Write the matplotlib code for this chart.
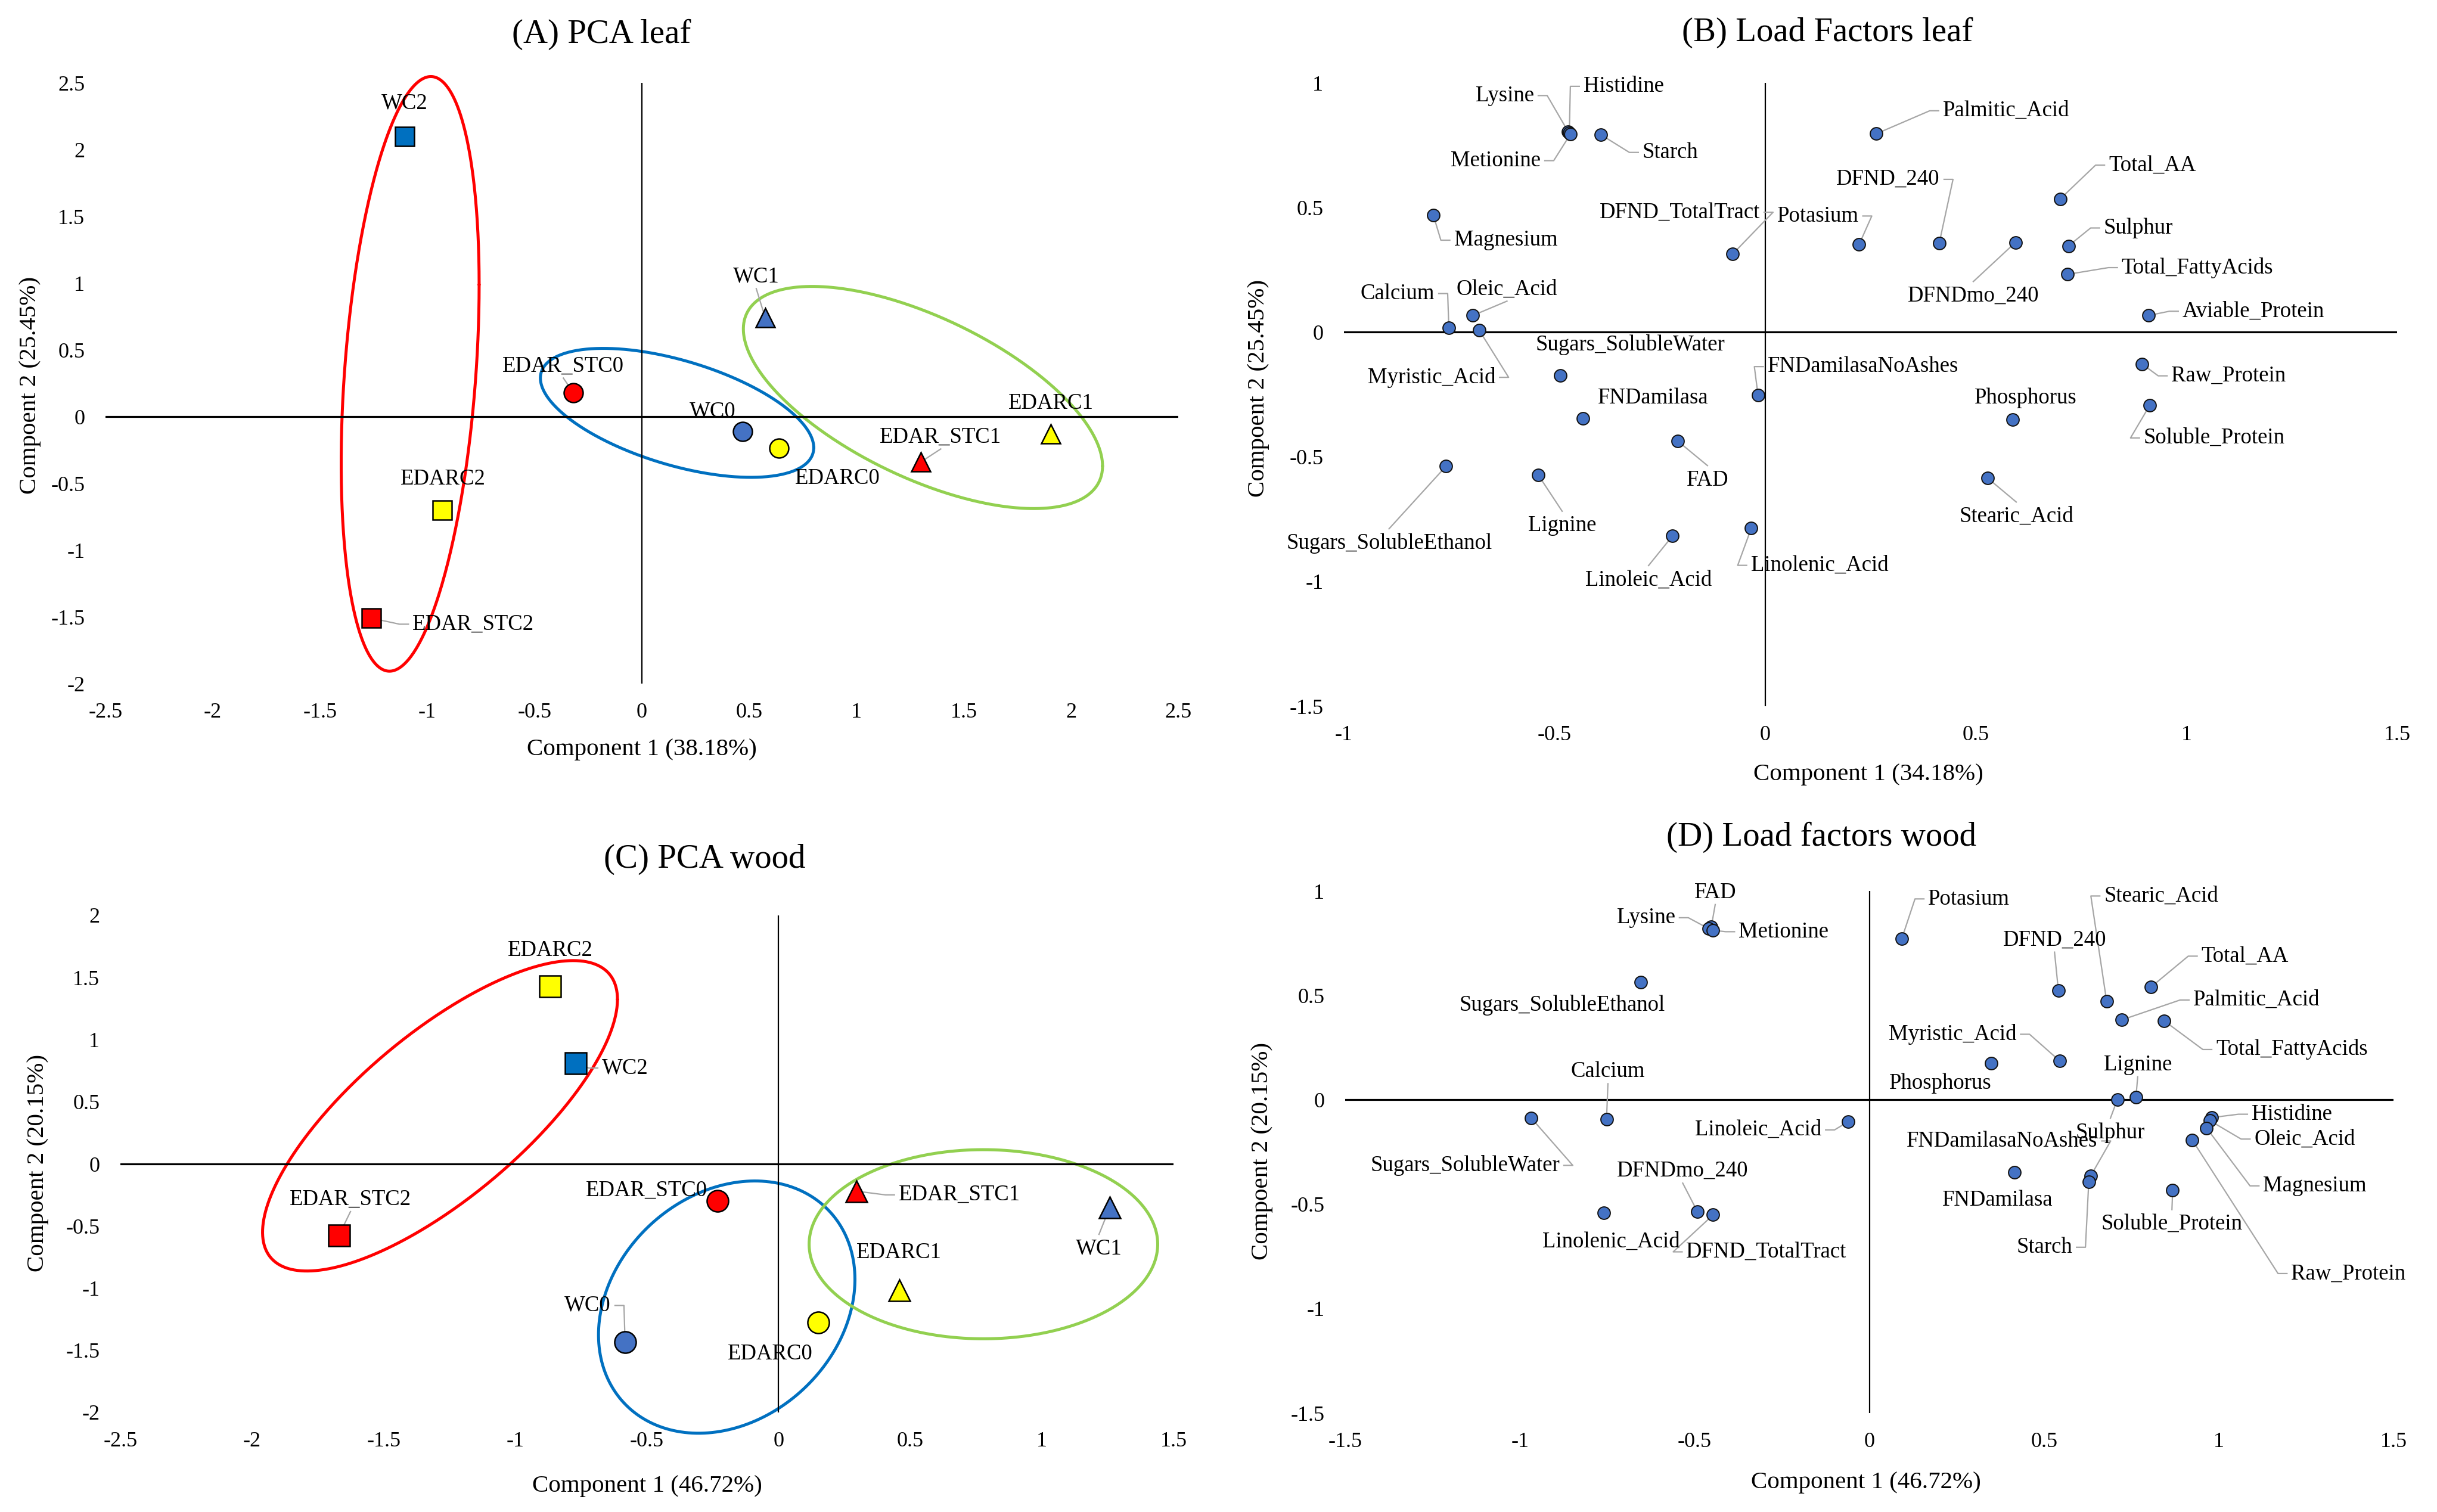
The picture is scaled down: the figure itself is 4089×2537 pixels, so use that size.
import numpy as np
import matplotlib
matplotlib.use('Agg')
import matplotlib.pyplot as plt
from matplotlib.lines import Line2D

plt.rcParams['font.family'] = ['Liberation Serif', 'DejaVu Serif']
plt.rcParams['axes.unicode_minus'] = False

W, H, DPI = 4089, 2537, 100

# ---------------- Panel A: PCA leaf ----------------
samples = ['WC0', 'WC1', 'WC2', 'EDARC0', 'EDARC1', 'EDARC2', 'EDAR_STC0', 'EDAR_STC1', 'EDAR_STC2']
leaf_pc1 = [0.47, 0.575, -1.105, 0.64, 1.905, -0.93, -0.32, 1.30, -1.26]
leaf_pc2 = [-0.11, 0.74, 2.10, -0.235, -0.13, -0.70, 0.18, -0.34, -1.51]
leaf_lab_x = [0.330, 0.533, -1.105, 0.913, 1.908, -0.928, -0.366, 1.393, -0.785]
leaf_lab_y = [0.041, 1.049, 2.347, -0.465, 0.100, -0.469, 0.379, -0.152, -1.555]

# ---------------- Panel C: PCA wood ----------------
wood_pc1 = [-0.583, 1.258, -0.771, 0.151, 0.458, -0.867, -0.232, 0.296, -1.67]
wood_pc2 = [-1.436, -0.349, 0.809, -1.276, -1.017, 1.429, -0.297, -0.219, -0.575]
wood_lab_x = [-0.725, 1.217, -0.583, -0.032, 0.458, -0.867, -0.501, 0.687, -1.626]
wood_lab_y = [-1.139, -0.683, 0.772, -1.529, -0.712, 1.718, -0.212, -0.249, -0.286]

# ---------------- Panel B: Load factors leaf ----------------
leaf_vars = ['Lysine', 'Histidine', 'Metionine', 'Starch', 'Palmitic_Acid', 'Total_AA', 'Magnesium',
             'DFND_TotalTract', 'Potasium', 'DFND_240', 'DFNDmo_240', 'Sulphur', 'Total_FattyAcids',
             'Aviable_Protein', 'Calcium', 'Oleic_Acid', 'Myristic_Acid', 'Sugars_SolubleWater',
             'FNDamilasaNoAshes', 'FNDamilasa', 'FAD', 'Raw_Protein', 'Soluble_Protein', 'Phosphorus',
             'Sugars_SolubleEthanol', 'Lignine', 'Stearic_Acid', 'Linoleic_Acid', 'Linolenic_Acid']
leaf_load1 = [-0.468, -0.465, -0.462, -0.390, 0.264, 0.700, -0.788, -0.077, 0.223, 0.413, 0.594, 0.720,
              0.718, 0.910, -0.751, -0.694, -0.679, -0.487, -0.017, -0.432, -0.208, 0.895, 0.913, 0.587,
              -0.758, -0.539, 0.528, -0.220, -0.033]
leaf_load2 = [0.805, 0.800, 0.795, 0.792, 0.796, 0.534, 0.470, 0.314, 0.352, 0.356, 0.360, 0.346,
              0.232, 0.067, 0.018, 0.067, 0.008, -0.173, -0.253, -0.346, -0.436, -0.128, -0.293, -0.350,
              -0.538, -0.572, -0.585, -0.817, -0.786]
leaf_vlab_x = [-0.618, -0.336, -0.640, -0.225, 0.572, 0.919, -0.616, -0.203, 0.125, 0.292, 0.494, 0.886,
               1.026, 1.159, -0.873, -0.613, -0.792, -0.321, 0.232, -0.266, -0.137, 1.100, 1.066, 0.618,
               -0.893, -0.482, 0.596, -0.277, 0.129]
leaf_vlab_y = [0.949, 0.986, 0.688, 0.721, 0.888, 0.670, 0.369, 0.481, 0.466, 0.613, 0.145, 0.418,
               0.259, 0.084, 0.155, 0.173, -0.181, -0.051, -0.138, -0.263, -0.593, -0.175, -0.424, -0.263,
               -0.847, -0.776, -0.739, -0.994, -0.935]

# ---------------- Panel D: Load factors wood ----------------
wood_vars = ['FAD', 'Lysine', 'Metionine', 'Potasium', 'Sugars_SolubleEthanol', 'DFND_240', 'Stearic_Acid',
             'Total_AA', 'Palmitic_Acid', 'Total_FattyAcids', 'Myristic_Acid', 'Phosphorus', 'Lignine',
             'Sulphur', 'Histidine', 'Oleic_Acid', 'Magnesium', 'Raw_Protein', 'Soluble_Protein',
             'FNDamilasa', 'FNDamilasaNoAshes', 'Starch', 'Sugars_SolubleWater', 'Calcium',
             'Linoleic_Acid', 'Linolenic_Acid', 'DFNDmo_240', 'DFND_TotalTract']
wood_load1 = [-0.452, -0.460, -0.448, 0.093, -0.654, 0.541, 0.679, 0.806, 0.723, 0.844, 0.545, 0.349, 0.763,
              0.710, 0.980, 0.975, 0.965, 0.924, 0.868, 0.416, 0.634, 0.628, -0.968, -0.752, -0.060,
              -0.759, -0.492, -0.447]
wood_load2 = [0.830, 0.820, 0.812, 0.772, 0.562, 0.524, 0.473, 0.540, 0.383, 0.378, 0.186, 0.175, 0.013,
              0.002, -0.085, -0.100, -0.135, -0.192, -0.434, -0.347, -0.363, -0.392, -0.086, -0.093,
              -0.104, -0.540, -0.535, -0.551]
wood_vlab_x = [-0.441, -0.639, -0.245, 0.285, -0.879, 0.530, 0.835, 1.075, 1.108, 1.209, 0.238, 0.203, 0.768,
               0.690, 1.209, 1.246, 1.275, 1.371, 0.866, 0.367, 0.380, 0.501, -1.157, -0.748, -0.318,
               -0.739, -0.534, -0.294]
wood_vlab_y = [0.993, 0.872, 0.805, 0.962, 0.454, 0.765, 0.976, 0.688, 0.478, 0.241, 0.314, 0.080, 0.168,
               -0.157, -0.069, -0.188, -0.412, -0.832, -0.595, -0.480, -0.197, -0.706, -0.314, 0.135,
               -0.144, -0.679, -0.341, -0.728]

# Ellipses: centre x, centre y, half-extent x, half-extent y, correlation
leaf_ellipses = [(-1.08, 0.32, 0.3215, 2.227, 0.30),
                 (0.164, 0.028, 0.637, 0.483, -0.54),
                 (1.31, 0.143, 0.837, 0.832, -0.617)]
wood_ellipses = [(-1.286, 0.3875, 0.674, 1.249, 0.75),
                 (-0.197, -1.152, 0.487, 1.015, 0.22),
                 (0.778, -0.646, 0.662, 0.761, 0.0)]
ellipse_colors = ['#FF0000', '#0070C0', '#92D050']

# ---------------- styles ----------------
sample_color = {'WC0': '#4472C4', 'WC1': '#4472C4', 'WC2': '#0070C0',
                'EDARC0': '#FFFF00', 'EDARC1': '#FFFF00', 'EDARC2': '#FFFF00',
                'EDAR_STC0': '#FF0000', 'EDAR_STC1': '#FF0000', 'EDAR_STC2': '#FF0000'}
sample_marker = {'0': 'o', '1': '^', '2': 's'}

leaders_A = {'WC1', 'EDAR_STC0', 'EDAR_STC1', 'EDAR_STC2'}
leaders_C = {'WC0', 'WC1', 'WC2', 'EDAR_STC1', 'EDAR_STC2'}
no_leader_B = {'Sugars_SolubleWater', 'FNDamilasa', 'Phosphorus'}
no_leader_D = {'Sugars_SolubleEthanol', 'Phosphorus', 'FNDamilasa', 'Linolenic_Acid'}

LEADER_C = '#A6A6A6'
TICK_FS = 26
LAB_FS = 26.5
AXT_FS = 29.5
TITLE_FS = 41

fig = plt.figure(figsize=(W / DPI, H / DPI), dpi=DPI)
fig.patch.set_facecolor('white')


def px_axes(l, t, r, b):
    return fig.add_axes([l / W, 1 - b / H, (r - l) / W, (b - t) / H])


def fmt(v):
    v = round(float(v), 2) + 0.0
    return f"{v:g}"


def setup(ax, xr, yr):
    ax.set_xlim(xr[0], xr[1])
    ax.set_ylim(yr[0], yr[1])
    xt = np.round(np.arange(xr[0], xr[1] + 0.01, 0.5), 2)
    yt = np.round(np.arange(yr[0], yr[1] + 0.01, 0.5), 2)
    ax.set_xticks(xt)
    ax.set_xticklabels([fmt(v) for v in xt])
    ax.set_yticks(yt)
    ax.set_yticklabels([fmt(v) for v in yt])
    for s in ax.spines.values():
        s.set_visible(False)
    ax.tick_params(axis='x', length=0, pad=23, labelsize=TICK_FS, colors='black')
    ax.tick_params(axis='y', length=0, pad=25, labelsize=TICK_FS, colors='black')
    ax.axhline(0, color='black', lw=2.3, zorder=2)
    ax.axvline(0, color='black', lw=1.6, zorder=2)
    ax.set_facecolor('none')


def draw_ellipses(ax, ells):
    t = np.linspace(0, 2 * np.pi, 400)
    for (cx, cy, hx, hy, rho), col in zip(ells, ellipse_colors):
        x = cx + hx * np.cos(t)
        y = cy + rho * hy * np.cos(t) + hy * np.sqrt(1 - rho ** 2) * np.sin(t)
        ax.plot(x, y, color=col, lw=3.6, zorder=1, solid_capstyle='round', clip_on=False)


def add_leader(ax, txt, px, py, renderer):
    bb = txt.get_window_extent(renderer)
    P = np.array(ax.transData.transform((px, py)))
    gap, elbow = 7, 15
    xm = (bb.x0 + bb.x1) / 2
    ym = (bb.y0 + bb.y1) / 2
    cands = [
        [(bb.x0 - gap, ym), (bb.x0 - gap - elbow, ym)],
        [(bb.x1 + gap, ym), (bb.x1 + gap + elbow, ym)],
        [(xm, bb.y0 - gap + 4)],
        [(xm, bb.y1 + gap)],
    ]
    best = min(cands, key=lambda c: np.hypot(c[-1][0] - P[0], c[-1][1] - P[1]))
    pts = np.array(best + [tuple(P)])
    d = ax.transData.inverted().transform(pts)
    ax.add_line(Line2D(d[:, 0], d[:, 1], color=LEADER_C, lw=1.6, zorder=3, clip_on=False))


# ---------------- build panels ----------------
axA = px_axes(177, 139, 1977, 1147)
axB = px_axes(2255, 139, 4022, 1185)
axC = px_axes(202, 1536, 1969, 2370)
axD = px_axes(2257, 1495, 4016, 2371)

setup(axA, (-2.5, 2.5), (-2, 2.5))
setup(axB, (-1, 1.5), (-1.5, 1))
setup(axC, (-2.5, 1.5), (-2, 2))
setup(axD, (-1.5, 1.5), (-1.5, 1))

draw_ellipses(axA, leaf_ellipses)
draw_ellipses(axC, wood_ellipses)

texts = []  # (ax, text, px, py)

for ax, p1, p2, lx, ly, leaders, ms in [
        (axA, leaf_pc1, leaf_pc2, leaf_lab_x, leaf_lab_y, leaders_A, 23),
        (axC, wood_pc1, wood_pc2, wood_lab_x, wood_lab_y, leaders_C, 26)]:
    for name, x, y, tx, ty in zip(samples, p1, p2, lx, ly):
        ax.plot([x], [y], linestyle='none', marker=sample_marker[name[-1]], markersize=ms,
                markerfacecolor=sample_color[name], markeredgecolor='black', markeredgewidth=1.8,
                zorder=4, clip_on=False)
        t = ax.text(tx, ty, name, ha='center', va='center', fontsize=LAB_FS, color='black', zorder=5)
        if name in leaders:
            texts.append((ax, t, x, y))

for ax, names, l1, l2, lx, ly, noleader in [
        (axB, leaf_vars, leaf_load1, leaf_load2, leaf_vlab_x, leaf_vlab_y, no_leader_B),
        (axD, wood_vars, wood_load1, wood_load2, wood_vlab_x, wood_vlab_y, no_leader_D)]:
    ax.plot(l1, l2, linestyle='none', marker='o', markersize=15, markerfacecolor='#4472C4',
            markeredgecolor='#111111', markeredgewidth=1.4, zorder=4, clip_on=False)
    for name, x, y, tx, ty in zip(names, l1, l2, lx, ly):
        t = ax.text(tx, ty, name, ha='center', va='center', fontsize=LAB_FS, color='black', zorder=5)
        if name not in noleader:
            texts.append((ax, t, x, y))


def ftext(x, y, s, **kw):
    fig.text(x / W, 1 - y / H, s, ha='center', va='center', color='black', **kw)


ftext(1009, 58, '(A) PCA leaf', fontsize=TITLE_FS)
ftext(3066, 55, '(B) Load Factors leaf', fontsize=TITLE_FS)
ftext(1182, 1442, '(C) PCA wood', fontsize=TITLE_FS)
ftext(3056, 1405, '(D) Load factors wood', fontsize=TITLE_FS)

ftext(1077, 1258, 'Component 1 (38.18%)', fontsize=AXT_FS)
ftext(3135, 1300, 'Component 1 (34.18%)', fontsize=AXT_FS)
ftext(1086, 2494, 'Component 1 (46.72%)', fontsize=AXT_FS)
ftext(3131, 2488, 'Component 1 (46.72%)', fontsize=AXT_FS)

ftext(51, 646, 'Compoent 2 (25.45%)', fontsize=AXT_FS, rotation=90)
ftext(2112, 652, 'Compoent 2 (25.45%)', fontsize=AXT_FS, rotation=90)
ftext(64, 1951, 'Compoent 2 (20.15%)', fontsize=AXT_FS, rotation=90)
ftext(2118, 1931, 'Compoent 2 (20.15%)', fontsize=AXT_FS, rotation=90)

fig.canvas.draw()
renderer = fig.canvas.get_renderer()
for ax, t, x, y in texts:
    add_leader(ax, t, x, y, renderer)

fig.savefig('out.png', dpi=DPI, facecolor='white')
